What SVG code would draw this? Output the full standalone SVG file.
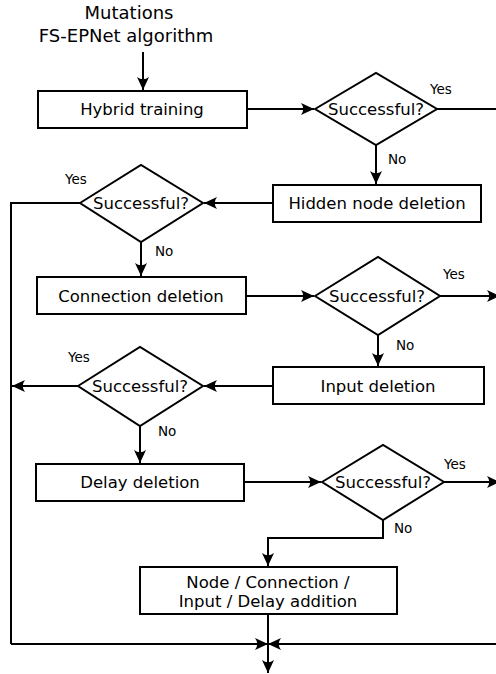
<svg xmlns="http://www.w3.org/2000/svg" width="496" height="674" viewBox="0 0 496 674">
  <style>
    .box { fill: #fff; stroke: #000; stroke-width: 2; }
    .dia { fill: #fff; stroke: #000; stroke-width: 2; stroke-linejoin: miter; }
    .lbl { font-family: "DejaVu Sans", sans-serif; font-size: 16.5px; fill: #000; text-anchor: middle; }
    .ttl { font-family: "DejaVu Sans", sans-serif; font-size: 18px; fill: #000; text-anchor: middle; }
    .yn { font-family: "DejaVu Sans", sans-serif; font-size: 13.5px; fill: #000; }
    .wire { fill: none; stroke: #000; stroke-width: 2; }
    .arr { marker-end: url(#head); }
  </style>
  <defs>
    <marker id="head" markerUnits="userSpaceOnUse" markerWidth="16" markerHeight="16" viewBox="-14 -8 16 16" refX="0" refY="0" orient="auto" overflow="visible">
      <path d="M0,0 L-13,-6 Q-8.5,0 -13,6 Z" fill="#000"/>
    </marker>
  </defs>

  <g id="title">
    <text class="ttl" x="129" y="19">Mutations</text>
    <text class="ttl" x="126" y="42">FS-EPNet algorithm</text>
  </g>

  <g id="n-hybrid">
    <rect class="box" x="38" y="91" width="209" height="37"/>
    <text class="lbl" x="142" y="115">Hybrid training</text>
  </g>
  <g id="d1">
    <polygon class="dia" points="315,109 376,73 437,109 376,145"/>
    <text class="lbl" x="376" y="115">Successful?</text>
  </g>
  <g id="n-hidden">
    <rect class="box" x="273" y="185" width="208" height="37"/>
    <text class="lbl" x="377" y="209">Hidden node deletion</text>
  </g>
  <g id="d2">
    <polygon class="dia" points="80,203 141,165 203,203 141,242"/>
    <text class="lbl" x="141" y="209">Successful?</text>
  </g>
  <g id="n-conn">
    <rect class="box" x="37" y="277" width="209" height="37"/>
    <text class="lbl" x="141" y="302">Connection deletion</text>
  </g>
  <g id="d3">
    <polygon class="dia" points="315,296 378,257 440,296 378,335"/>
    <text class="lbl" x="377" y="302">Successful?</text>
  </g>
  <g id="n-input">
    <rect class="box" x="273" y="367" width="211" height="37"/>
    <text class="lbl" x="378" y="392">Input deletion</text>
  </g>
  <g id="d4">
    <polygon class="dia" points="78,386 140,347 203,386 140,426"/>
    <text class="lbl" x="140" y="392">Successful?</text>
  </g>
  <g id="n-delay">
    <rect class="box" x="36" y="464" width="208" height="37"/>
    <text class="lbl" x="140" y="488">Delay deletion</text>
  </g>
  <g id="d5">
    <polygon class="dia" points="322,482 383,445 444,482 383,520"/>
    <text class="lbl" x="383" y="488">Successful?</text>
  </g>
  <g id="n-add">
    <rect class="box" x="140" y="567" width="257" height="47"/>
    <text class="lbl" x="268" y="588">Node / Connection /</text>
    <text class="lbl" x="268" y="607">Input / Delay addition</text>
  </g>

  <g id="connectors">
    <path class="wire arr" d="M143,52 V90"/>
    <path class="wire arr" d="M247,109 H314"/>
    <path class="wire" d="M437,109 H496"/>
    <path class="wire arr" d="M376,145 V184"/>
    <path class="wire arr" d="M273,203 H204"/>
    <path class="wire" d="M80,203 H11 V644"/>
    <path class="wire arr" d="M141,242 V276"/>
    <path class="wire arr" d="M246,296 H314"/>
    <path class="wire arr" d="M440,296 H500"/>
    <path class="wire arr" d="M378,335 V366"/>
    <path class="wire arr" d="M273,386 H204"/>
    <path class="wire arr" d="M78,386 H12"/>
    <path class="wire arr" d="M140,426 V463"/>
    <path class="wire arr" d="M244,482 H321"/>
    <path class="wire arr" d="M444,482 H500"/>
    <path class="wire arr" d="M383,520 V538 H268 V566"/>
    <path class="wire" d="M268,614 V644"/>
    <path class="wire arr" d="M11,644 H268"/>
    <path class="wire arr" d="M496,644 H268"/>
    <path class="wire arr" d="M268,644 V673"/>
    <g id="branch-labels">
      <text class="yn" x="430" y="94">Yes</text>
      <text class="yn" x="388" y="164">No</text>
      <text class="yn" x="65" y="184">Yes</text>
      <text class="yn" x="155" y="256">No</text>
      <text class="yn" x="443" y="279">Yes</text>
      <text class="yn" x="396" y="350">No</text>
      <text class="yn" x="68" y="362">Yes</text>
      <text class="yn" x="158" y="436">No</text>
      <text class="yn" x="444" y="469">Yes</text>
      <text class="yn" x="394" y="533">No</text>
    </g>
  </g>
</svg>
